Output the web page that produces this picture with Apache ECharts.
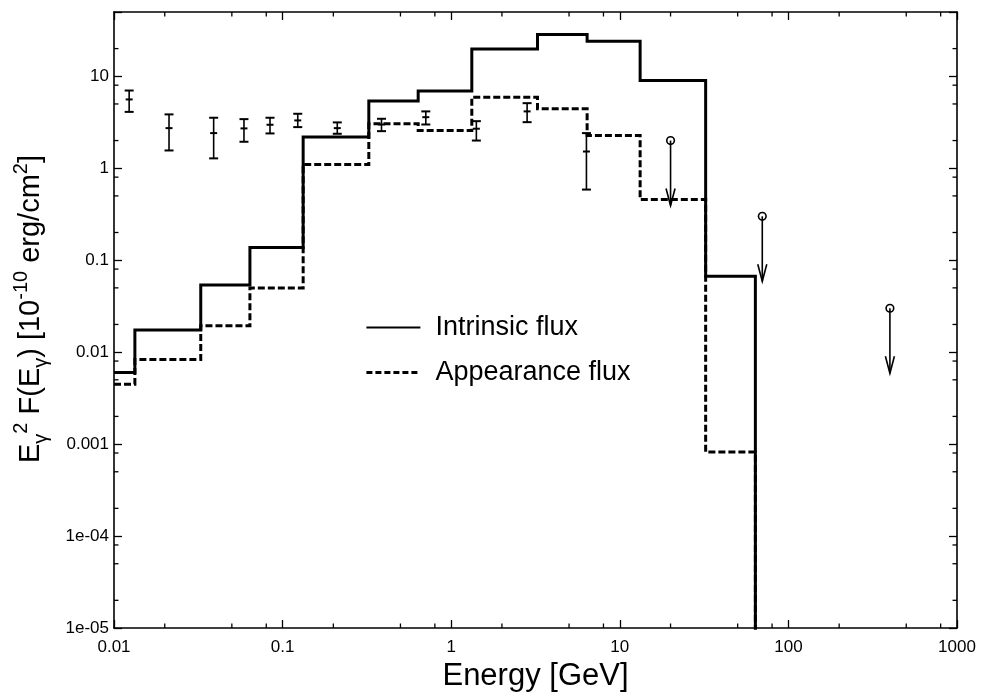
<!DOCTYPE html>
<html>
<head>
<meta charset="utf-8">
<script src="https://cdn.jsdelivr.net/npm/echarts@6/dist/echarts.min.js"></script>
<style>
  html, body { margin: 0; padding: 0; background: #fff; }
  #chart { width: 984px; height: 692px; }
</style>
</head>
<body>
<div id="chart"></div>
<script>
// Energy bin edges of the model spectra [GeV]
const binEdges = [0.01, 0.0133, 0.0327, 0.064, 0.1324, 0.3246, 0.637, 1.325, 3.25, 6.4, 13.2, 32.3, 63.7];
// Model flux per bin, E^2 F(E) [1e-10 erg/cm^2]
const intrinsicFlux  = [0.0060, 0.0174, 0.0537, 0.137, 2.18, 5.4, 6.9, 19.8, 28.4, 24.0, 9.0, 0.0667];
const appearanceFlux = [0.00448, 0.0083, 0.0194, 0.0498, 1.10, 3.05, 2.57, 5.93, 4.44, 2.27, 0.456, 0.00082];

// Measured points with error bars
const obsEnergy = [0.0123, 0.0212, 0.039, 0.059, 0.0842, 0.123, 0.211, 0.386, 0.707, 1.41, 2.82, 6.34];
const obsFlux   = [5.6, 2.73, 2.41, 2.71, 2.97, 3.31, 2.73, 2.99, 3.59, 2.69, 4.15, 1.52];
const obsHigh   = [7.0, 3.85, 3.54, 3.42, 3.54, 3.91, 3.15, 3.45, 4.15, 3.25, 5.1, 2.41];
const obsLow    = [4.1, 1.56, 1.28, 1.94, 2.39, 2.80, 2.37, 2.53, 2.99, 2.0, 3.17, 0.586];

// Upper limits
const limitEnergy = [20, 70, 400];
const limitFlux   = [2.0, 0.3, 0.03];

// Axis ranges and tick labels
const xRange = [0.01, 1000];
const yRange = [1e-5, 50];
const xTickLabels = ['0.01', '0.1', '1', '10', '100', '1000'];
const yTickLabels = ['1e-05', '1e-04', '0.001', '0.01', '0.1', '1', '10'];
const xMinorTicks = [0.02, 0.05, 0.08, 0.2, 0.5, 0.8, 2, 5, 8, 20, 50, 80, 200, 500, 800];
const yMinorTicks = [2e-5, 5e-5, 8e-5, 2e-4, 5e-4, 8e-4, 0.002, 0.005, 0.008,
                     0.02, 0.05, 0.08, 0.2, 0.5, 0.8, 2, 5, 8, 20];

const FONT = '"Liberation Sans", Arial, Helvetica, sans-serif';

// Turn bin edges + per-bin values into a stepped outline that falls off the bottom after the last bin
function histogramPath(edges, values) {
  const pts = [];
  values.forEach((v, i) => {
    pts.push([edges[i], v]);
    pts.push([edges[i + 1], v]);
  });
  pts.push([edges[edges.length - 1], yRange[0] / 100]);
  return pts;
}

function decadeLabel(labels, base) {
  return function (v) {
    const e = Math.log10(v);
    const r = Math.round(e);
    if (Math.abs(e - r) > 1e-6) return '';
    return labels[r - base] || '';
  };
}

const ink = { stroke: '#000', fill: 'none', lineWidth: 1.6 };

function renderErrorBar(params, api) {
  const x = api.value(0);
  const c = api.coord([x, api.value(1)]);
  const hi = api.coord([x, api.value(2)]);
  const lo = api.coord([x, api.value(3)]);
  const cap = 4.5, mid = 3.5;
  const bold = Object.assign({}, ink, { lineWidth: 2 });
  return {
    type: 'group',
    children: [
      { type: 'line', shape: { x1: c[0], y1: hi[1], x2: c[0], y2: lo[1] }, style: ink },
      { type: 'line', shape: { x1: c[0] - cap, y1: hi[1], x2: c[0] + cap, y2: hi[1] }, style: bold },
      { type: 'line', shape: { x1: c[0] - cap, y1: lo[1], x2: c[0] + cap, y2: lo[1] }, style: bold },
      { type: 'line', shape: { x1: c[0] - mid, y1: c[1], x2: c[0] + mid, y2: c[1] }, style: bold }
    ]
  };
}

function renderLimit(params, api) {
  const p = api.coord([api.value(0), api.value(1)]);
  const len = 65, head = 17, half = 4.5;
  const tip = p[1] + len;
  return {
    type: 'group',
    children: [
      { type: 'circle', shape: { cx: p[0], cy: p[1], r: 3.8 }, style: ink },
      { type: 'line', shape: { x1: p[0], y1: p[1], x2: p[0], y2: tip }, style: ink },
      { type: 'polyline', shape: { points: [[p[0] - half, tip - head], [p[0], tip], [p[0] + half, tip - head]] }, style: ink }
    ]
  };
}

// Minor ticks at 2, 5, 8 of every decade, drawn inward on all four sides
function renderXMinor(params, api) {
  const cs = params.coordSys;
  const x = api.coord([api.value(0), yRange[0]])[0];
  const b = cs.y + cs.height, t = cs.y, L = 4.5;
  return {
    type: 'group', children: [
      { type: 'line', shape: { x1: x, y1: b, x2: x, y2: b - L }, style: { stroke: '#000', lineWidth: 1.3 } },
      { type: 'line', shape: { x1: x, y1: t, x2: x, y2: t + L }, style: { stroke: '#000', lineWidth: 1.3 } }
    ]
  };
}
function renderYMinor(params, api) {
  const cs = params.coordSys;
  const y = api.coord([xRange[0], api.value(1)])[1];
  const l = cs.x, r = cs.x + cs.width, L = 4.5;
  return {
    type: 'group', children: [
      { type: 'line', shape: { x1: l, y1: y, x2: l + L, y2: y }, style: { stroke: '#000', lineWidth: 1.3 } },
      { type: 'line', shape: { x1: r, y1: y, x2: r - L, y2: y }, style: { stroke: '#000', lineWidth: 1.3 } }
    ]
  };
}

const axisCommon = {
  type: 'log',
  logBase: 10,
  axisLine: { show: true, onZero: false, lineStyle: { color: '#000', width: 1.6 } },
  axisTick: { show: true, inside: true, length: 8, lineStyle: { color: '#000', width: 1.3 } },
  splitLine: { show: false },
  minorTick: { show: false },
  minorSplitLine: { show: false }
};

const hiddenSymbol = { color: 'rgba(0,0,0,0)', borderColor: 'rgba(0,0,0,0)', borderWidth: 0, opacity: 0 };

const chart = echarts.init(document.getElementById('chart'), null, { renderer: 'canvas' });

chart.setOption({
  backgroundColor: '#fff',
  animation: false,
  grid: { left: 114, top: 12, width: 843, height: 616, containLabel: false, outerBoundsMode: 'none' },
  legend: {
    orient: 'vertical',
    left: 360,
    top: 309,
    itemWidth: 54,
    itemHeight: 30,
    itemGap: 18,
    selectedMode: false,
    textStyle: { fontSize: 27, fontFamily: FONT, color: '#000', padding: [0, 0, 0, 10] },
    data: [
      { name: 'Intrinsic flux', itemStyle: hiddenSymbol, lineStyle: { width: 1.8, type: 'solid', color: '#000' } },
      { name: 'Appearance flux', itemStyle: hiddenSymbol, lineStyle: { width: 2.8, type: [6, 3], color: '#000' } }
    ]
  },
  xAxis: [
    Object.assign({}, axisCommon, {
      position: 'bottom', min: xRange[0], max: xRange[1],
      name: 'Energy [GeV]', nameLocation: 'middle', nameGap: 30,
      nameTextStyle: { fontSize: 31, fontFamily: FONT, color: '#000' },
      axisLabel: { show: true, margin: 11, fontSize: 17, fontFamily: FONT, color: '#000',
                   showMinLabel: true, showMaxLabel: true, formatter: decadeLabel(xTickLabels, -2) }
    }),
    Object.assign({}, axisCommon, {
      position: 'top', min: xRange[0], max: xRange[1], axisLabel: { show: false }
    })
  ],
  yAxis: [
    Object.assign({}, axisCommon, {
      position: 'left', min: yRange[0], max: yRange[1],
      name: '{b|E}{s|γ}{p|2}{b| F(E}{s|γ}{b|) [10}{p|-10}{b| erg/cm}{p|2}{b|]}',
      nameLocation: 'middle', nameGap: 63, nameRotate: 90,
      nameTextStyle: {
        fontSize: 29, fontFamily: FONT, color: '#000', padding: [0, 0, 0, 22],
        rich: {
          b: { fontSize: 29, fontFamily: FONT, color: '#000', lineHeight: 40, verticalAlign: 'middle' },
          s: { fontSize: 20, fontFamily: FONT, color: '#000', lineHeight: 20, verticalAlign: 'bottom' },
          p: { fontSize: 20, fontFamily: FONT, color: '#000', lineHeight: 20, verticalAlign: 'top' }
        }
      },
      axisLabel: { show: true, margin: 5, fontSize: 17, fontFamily: FONT, color: '#000',
                   showMinLabel: true, showMaxLabel: true, formatter: decadeLabel(yTickLabels, -5) }
    }),
    Object.assign({}, axisCommon, {
      position: 'right', min: yRange[0], max: yRange[1], axisLabel: { show: false }
    })
  ],
  series: [
    {
      name: 'Intrinsic flux',
      type: 'line',
      data: histogramPath(binEdges, intrinsicFlux),
      symbol: 'none',
      clip: true,
      color: '#000',
      lineStyle: { color: '#000', width: 3, type: 'solid', cap: 'butt', join: 'miter' },
      z: 3
    },
    {
      name: 'Appearance flux',
      type: 'line',
      data: histogramPath(binEdges, appearanceFlux),
      symbol: 'none',
      clip: true,
      color: '#000',
      lineStyle: { color: '#000', width: 3, type: [7, 3], cap: 'butt', join: 'miter' },
      z: 2
    },
    {
      name: 'Measured',
      type: 'custom',
      renderItem: renderErrorBar,
      data: obsEnergy.map((e, i) => [e, obsFlux[i], obsHigh[i], obsLow[i]]),
      encode: { x: 0, y: [1, 2, 3] },
      silent: true,
      z: 5
    },
    {
      name: 'Upper limits',
      type: 'custom',
      renderItem: renderLimit,
      data: limitEnergy.map((e, i) => [e, limitFlux[i]]),
      encode: { x: 0, y: 1 },
      silent: true,
      z: 5
    },
    {
      name: 'x minor ticks',
      type: 'custom',
      renderItem: renderXMinor,
      data: xMinorTicks.map(v => [v, 1]),
      encode: { x: 0, y: 1 },
      silent: true,
      z: 6
    },
    {
      name: 'y minor ticks',
      type: 'custom',
      renderItem: renderYMinor,
      data: yMinorTicks.map(v => [1, v]),
      encode: { x: 0, y: 1 },
      silent: true,
      z: 6
    }
  ]
});
</script>
</body>
</html>
